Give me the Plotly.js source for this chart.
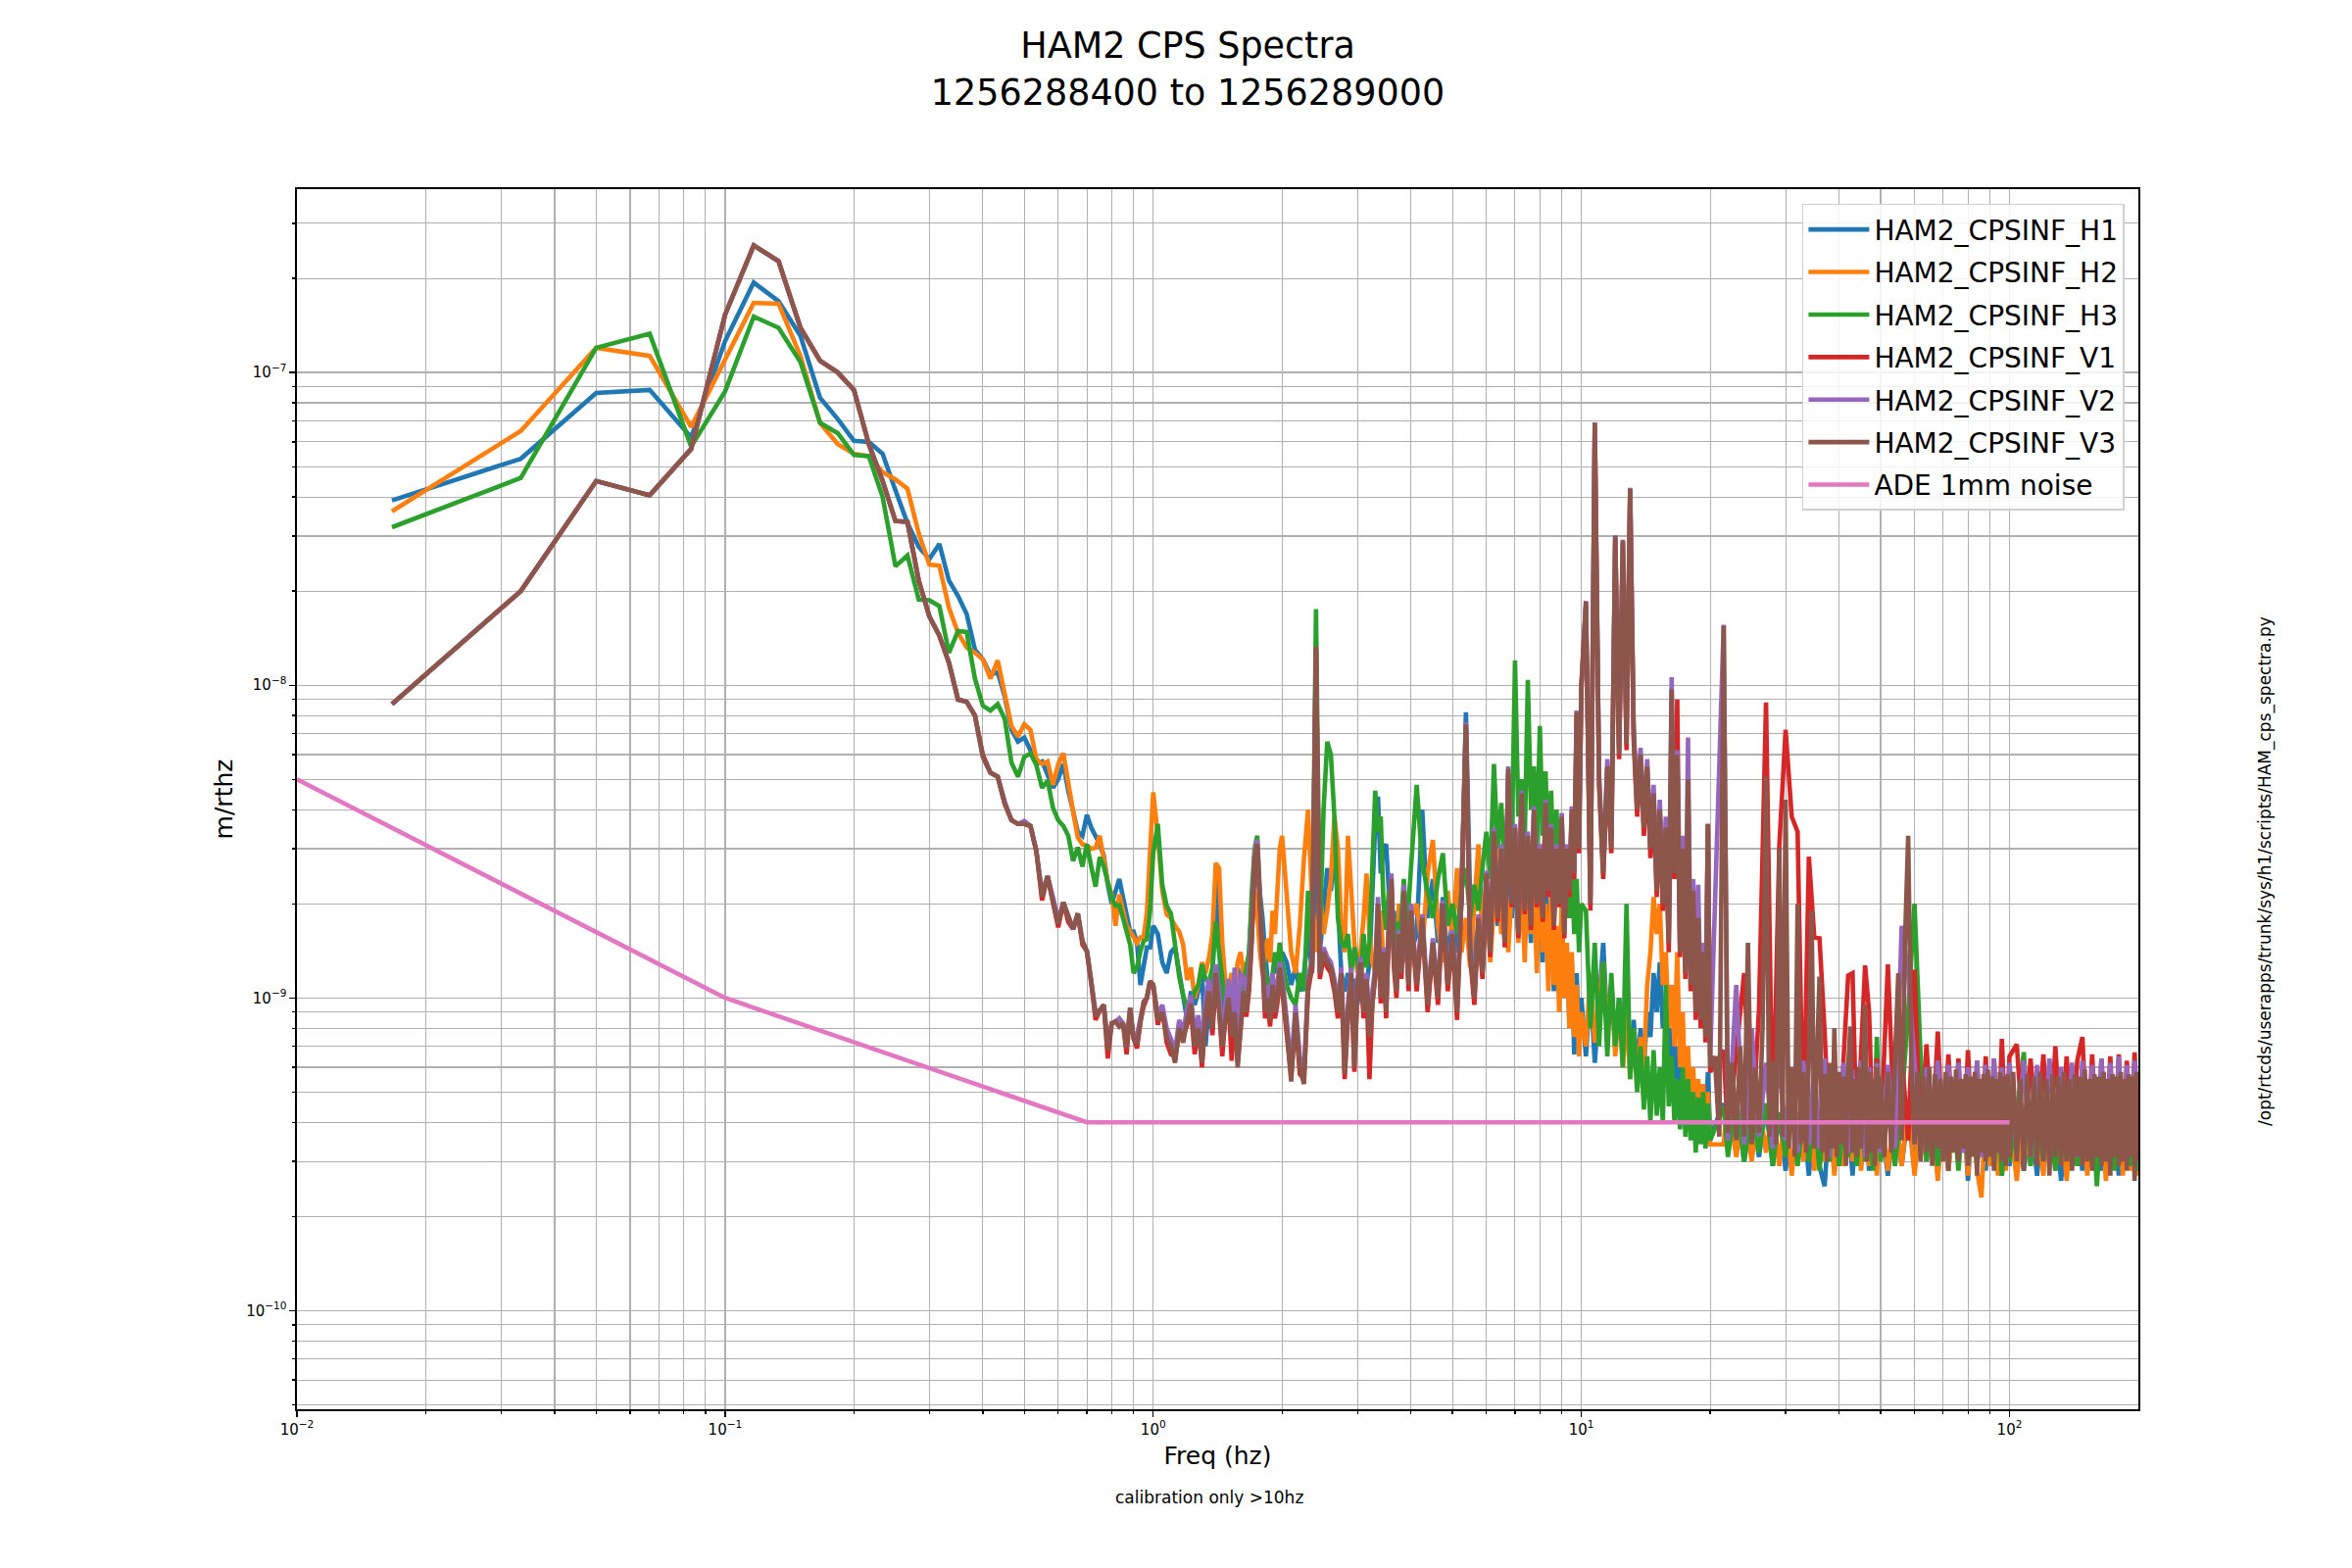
<!DOCTYPE html>
<html><head><meta charset="utf-8">
<script src="https://cdn.plot.ly/plotly-3.0.1.min.js"></script>
<style>html,body{margin:0;padding:0;background:#fff}#chart{width:2400px;height:1600px}</style>
</head><body><div id="chart"></div>
<script>
// values are stored in units of 1e-10 m/rtHz
const UNIT = 1e-10;

const freqLow = [0.01667,0.03333,0.05,0.06667,0.08333,0.1,0.11667,0.13333,0.15,0.16667,
0.18333,0.2,0.21667,0.23333,0.25,0.26667,0.28333,0.3,0.31667,0.33333,
0.35,0.36667,0.38333,0.4,0.41667,0.43333,0.45,0.46667,0.48333,0.5,
0.51667,0.53333,0.55,0.56667,0.58333,0.6,0.61667,0.63333,0.65,0.66667,
0.68333,0.7,0.71667,0.73333,0.75,0.76667,0.78333,0.8,0.81667,0.83333,
0.85,0.86667,0.88333,0.9,0.91667,0.93333,0.95,0.96667,0.98333,1.0];

const freqMid = [1.025,1.05,1.075,1.1,1.125,1.15,1.175,1.2,1.225,1.25,1.275,1.3,1.325,1.35,1.375,1.4,1.425,1.45,1.475,1.5,
1.525,1.55,1.575,1.6,1.625,1.65,1.675,1.7,1.725,1.75,1.775,1.8,1.825,1.85,1.875,1.9,1.925,1.95,1.975,2.0,
2.05,2.1,2.15,2.2,2.25,2.3,2.35,2.4,2.45,2.5,2.55,2.6,2.65,2.7,2.75,2.8,2.85,2.9,2.95,3.0,
3.05,3.1,3.15,3.2,3.25,3.3,3.35,3.4,3.45,3.5,3.55,3.6,3.65,3.7,3.75,3.8,3.85,3.9,3.95,4.0,
4.125,4.25,4.375,4.5,4.625,4.75,4.875,5.0,5.125,5.25,5.375,5.5,5.625,5.75,5.875,6.0,
6.125,6.25,6.375,6.5,6.625,6.75,6.875,7.0,7.125,7.25,7.375,7.5,7.625,7.75,7.875,8.0,
8.125,8.25,8.375,8.5,8.625,8.75,8.875,9.0,9.125,9.25,9.375,9.5,9.625,9.75,9.875,10.0,
10.25,10.5,10.75,11,11.25,11.5,11.75,12,12.25,12.5,12.75,13,13.25,13.5,13.75,14,14.25,14.5,14.75,15,
15.25,15.5,15.75,16,16.25,16.5,16.75,17,17.25,17.5,17.75,18,18.25,18.5,18.75,19,19.25,19.5,19.75,20];

const freqHighDense = [20.5,21,21.5,22,22.5,23,23.5,24,24.5,25,25.5,26,26.5,27,27.5,28,28.5,29,29.5,30,
30.5,31,31.5,32,32.5,33,33.5,34,34.5,35,35.5,36,36.5,37,37.5,38,38.5,39,39.5,40,
40.5,41,41.5,42,42.5,43,43.5,44,44.5,45,45.5,46,46.5,47,47.5,48,48.5,49,49.5,50,
51,52,53,54,55,56,57,58,59,60,61,62,63,64,65,66,67,68,69,70,
71,72,73,74,75,76,77,78,79,80,81,82,83,84,85,86,87,88,89,90,
91,92,93,94,95,96,97,98,99,100,
102,104,106,108,110,112,114,116,118,120,122,124,126,128,130,132,134,136,138,140,
142,144,146,148,150,152,154,156,158,160,162,164,166,168,170,172,174,176,178,180,
182,184,186,188,190,192,194,196,198,200];

const freqHigh = [21.5,22,23,24,25,26,27,28,29,30,31,32,33,34,35,36,37,38,39,40,
41,42,43,44,45,46,47,48,49,50,
52,54,56,58,60,62,64,66,68,70,72,74,76,78,80,82,84,86,88,90,92,94,96,98,100,
104,108,112,116,120,124,128,132,136,140,144,148,152,156,160,164,168,172,176,180,184,188,192,196,200];

// ---- HAM2_CPSINF_H1 ----
const h1Low = [390,530,860,880,620,1260,1940,1690,1310,830,
710,605,600,550,420,330,277,253,283,216,
193,169,130,121,108,110,92,72,66,68,
62,56,57,52,47,50,56,46,40,34,
33,38.5,35,33,31,28.5,23,20,22,24,
21,18.5,16.3,16.3,15,11,13,14.5,14.5,17];
const h1Mid = [16,13,12,14,14.5,12,10,8.5,10.5,9.5,10.5,12,7,9.5,11,25.5,17,7.5,9,11,
9.5,11.5,12.5,11.5,10.5,11,14,20,24,26,22,18,14,11.5,10.5,11.5,13,12,12.5,14,
13,11,12.5,10.5,12,16,12,30,14,19,26,22,30,20,12,10.5,12,10,11.5,9.5,
12,10,11,13,20,36,44,25,30,31,22,17,19,14,17,15,18.5,13,16,14,
16,40,18,24,15,21,13,18,14,20,82,20,13,17,12,22,
15,26,17,23,15,30,18,26,16,30,17,24,15,28,14,22,
13,25,12,18,10.5,16,11,19,10,14,8.5,13,6.6,12,7.5,10,
6.5,11,6.2,10,15,8,11,7,10,6.5,9,6,8.5,5.8,8,6,9,7.5,12,9,
13,8,10,6.5,8,5.5,7,5,6.5,4.5,6,4.4,5.5,4,5.2,3.9,5,3.7,5.8,3.6];
const h1High = [4.6,3.2,4.7,3.0,4.4,3.1,4.5,2.9,4.3,2.8,4.6,3.0,4.2,2.7,4.4,2.9,2.5,4.3,2.8,4.5,
3.0,4.2,2.7,4.4,2.9,4.3,2.8,4.5,3.0,4.2,
2.7,4.4,2.9,4.3,2.8,4.5,3.0,4.2,2.7,4.4,2.8,4.3,3.0,4.5,2.6,4.2,2.9,4.4,2.8,4.3,3.0,4.5,2.7,4.2,2.9,
4.4,2.8,4.3,2.7,4.5,3.0,4.2,2.6,4.4,2.9,4.3,2.8,4.5,3.0,4.2,2.8,4.4,2.9,4.3,2.7,4.5,3.0,4.2,2.8,4.4];

// ---- HAM2_CPSINF_H2 ----
const h2Low = [360,650,1200,1130,670,1100,1670,1660,1130,690,
590,550,540,480,455,425,306,243,241,177,
147,132,127,121,105,120,94,74,68.6,75,
72,58,56,57,48,56,60.6,48,39.4,32.6,
31,30.7,30,30.2,33,27.8,23.4,21.4,17,21.4,
19,17,16.3,15.6,15,15.6,15.6,18.8,30,45.4];
const h2Mid = [33,22,18.5,18,17,16.3,14.8,11.4,12.5,10,11,13,12,13.5,16,27,26,15,11,10.5,
12,10.5,13,14,12,13,12,16,22,19,14,12,14,15.5,13,19,16,22,30,33,
22,14,12,17,28,40,20,14,22,16,19,24,38,30,17,14,33,22,15,12,
14,18,25,16,13,12,14,19,13,12,15,18,14,12,20,16.5,13,17,14,18,
20,14,25,32,17,13,22,15,26,14,18,12.5,20,31,15,24,
13,20,30,16,26,14,22,35,15,24,13,28,16,22,12,30,
14,20,10.5,22,11,17,9,20,10,15,8,14,7.5,11,6.5,9,
7,12,7.2,10,13,8,11,6.5,9.5,6,9,5.5,8,5.2,7.5,6,11,14,21,16,
20,11,14,8,11,7,14,6,9,4.6,7,4.2,6,3.8,5.5,3.7,5.3,3.5,5,3.4];
const h2High = [3.4,4.8,3.1,4.5,3.0,4.6,3.2,4.4,2.9,4.5,2.7,4.3,3.0,4.6,2.8,4.4,3.0,4.2,2.7,4.5,
2.9,4.3,3.0,4.4,2.8,4.6,2.9,4.3,2.7,4.5,
2.8,4.4,2.9,4.6,2.7,4.3,3.0,4.5,2.6,4.4,2.8,4.2,2.9,4.5,2.7,4.3,2.8,2.3,4.4,2.9,4.2,2.7,4.5,2.8,4.3,
2.6,4.4,2.9,4.2,2.7,4.5,2.8,4.3,2.6,4.4,2.9,4.2,2.7,4.5,2.8,4.3,2.6,4.4,2.9,4.2,2.7,4.5,2.8,4.3,2.7];

// ---- HAM2_CPSINF_H3 ----
const h3Low = [320,460,1200,1330,580,870,1510,1390,1080,690,
640,545,540,400,240,260,188,187,179,127,
149,148,105,86,83,87,78,56.5,51,59,
60.5,55.5,47,49.5,40.5,37,35.5,33,27.4,30.3,
26.3,31,26.3,22.7,28.2,26.3,23.4,20.9,19.7,19.8,
18,16.5,14.8,12,12.5,14.1,15.2,15.4,19,29];
const h3Mid = [36,23,19.7,18.6,15,11.7,10.2,9.2,9.6,10.5,11,12.8,11.5,11.2,12.5,17.5,14,11.5,9.5,9,
10.3,11,9.5,8.8,11,12.5,14,22,30,33,22,14,12,11.5,10,12,14,12.5,15,13,
11,10,9.5,12,10.5,22,14,175,16,40,66,60,38,18,15,14.5,16,12,14.5,13,
10.5,16,12.5,15,26,46,34,38,20,16.5,22,19,15,17.5,14,18,24,17,20,26,
48,27,22,18,24,29,17,20,16,22,26,18,23,19,26,34,
24,56,30,42,25,44,30,120,38,50,32,104,40,55,30,74,
33,53,28,46,24,40,22,35,20,30,18,28,16,24,14,20,
19,8,15,7,13,6.5,12,7,10,6,20,5.5,8,5,7,4.4,6.5,4,6.8,4.2,
6,4,11,4.5,6.5,4,5.5,3.8,6,3.6,5.5,3.5,5,3.2,4.8,3.4,5,3.3,4.6,3.5];
const h3High = [4.5,3.1,4.8,3.0,4.4,3.2,4.6,2.9,4.3,3.1,4.5,2.9,4.2,3.0,4.4,2.8,4.3,3.0,4.5,2.9,
4.2,3.1,4.4,2.9,4.3,3.0,4.5,2.8,7.5,3.0,
4.4,2.9,4.6,9,20,6.5,3.0,4.4,2.9,4.3,3.1,4.5,2.8,4.4,3.0,4.3,2.9,4.5,3.1,4.2,2.9,4.4,2.7,4.5,3.0,
4.3,6.7,2.9,4.4,3.0,4.5,2.8,4.3,3.0,4.4,2.9,4.2,3.1,4.5,2.5,4.3,3.0,4.4,2.8,4.3,3.0,4.5,2.9,4.4,2.8];

// ---- HAM2_CPSINF_V1 ----
const v1Low = [87,200,450,405,570,1530,2550,2270,1390,1090,
1000,880,590,450,335,333,216,166,144,118,
90,88.5,80,60,52.5,51,41.7,37,36,36,
35.5,29.5,20.5,24.5,20.2,16.8,20.2,17.5,16.6,18.6,
14.8,14.1,11.3,8.5,9.1,9.5,6.4,8.3,8.4,8.1,
8.3,6.6,9.0,7.4,6.9,8.4,9.4,10,11.3,11];
const v1Mid = [8.2,9.3,7.2,6.6,6.5,7.6,7.5,8.2,9.2,6.6,8.3,6.0,8.7,10.2,7.6,11.5,9.2,6.5,8.8,9.6,
6.3,9.3,6.2,8.2,10.1,8.7,10.6,15.5,27,30,19.5,11.5,8.6,9.6,8.1,10.5,8.6,9.6,12,10.6,
7.6,5.6,8.6,5.7,5.5,10.5,12.5,130,11.5,13.5,12.5,12,10.5,8.6,11.5,5.5,8.6,11.5,5.8,10.5,
12.5,8.6,11,5.5,9.6,11.5,19.5,9.6,13.5,8.6,16.5,23,12.5,10,15.5,11.5,21,13.5,10.5,18.5,
10.5,17.5,9,14.5,9.5,19.5,10.5,15.5,8.5,21,73,13.5,9.5,17.5,11.5,24,
13.5,33,17.5,29,14.5,52,19.5,34,15.5,44,18.5,32,16.5,39,19.5,29,
17.5,41,21,34,16.5,29,19.5,37,15.5,29,21,39,24,80,29,97,
180,19,680,48,24,53,29,295,58,285,62,420,67,38,58,33,53,28,43,21,
38,19,33,14,60,24,90,13.5,29,11.5,45,10.5,21,8.5,17,8,13.5,7.2,36,5.8];
const v1High = [6.8,3.6,6.5,12,3.5,9.2,88,3.6,30.7,72,38,34,3.5,28.3,15.6,15.5,7.8,3.4,6.8,3.5,
6.5,11.8,12,3.3,6.6,12.7,9,3.4,6.4,3.5,
12.8,3.4,6.6,3.5,12.3,3.4,7.1,3.4,7.8,3.3,6.6,3.5,6.4,3.2,6.8,3.4,6.3,3.3,6.5,3.5,6.4,3.2,7.4,3.4,6.5,
7.1,3.3,6.4,3.5,6.6,3.2,7.0,3.4,6.5,3.3,6.3,7.5,3.4,6.6,3.3,6.4,3.5,6.5,3.2,6.6,3.4,6.3,3.3,6.7,3.4];

// ---- HAM2_CPSINF_V2 ----
const v2Low = [87,200,450,405,570,1530,2550,2270,1390,1090,
1000,880,590,450,335,333,216,166,144,118,
90,88.5,80,59,52.5,51,42.5,37,36,36.8,
35.5,29.5,21.8,24.5,21,17.8,20.2,18.3,16.6,18.6,
15.2,14.1,11.3,9.1,9.1,9.5,7.3,8.3,8.4,8.6,
8.3,7.3,9.3,7.4,7.6,8.8,9.7,10,11.3,11];
const v2Mid = [8.8,9.5,8,7.4,6.8,8.5,7.8,9.2,10.2,7.6,8.8,7,10,11.5,9,12.8,10.5,7.8,9.5,11.5,
8.5,12.5,7.5,12,11.5,10.5,12.5,17,29,32,21,13,10,11,9.5,12,10,11,13,12,
8.5,6,9.5,6.5,5.8,11.5,13.5,131,12.5,14.5,13.5,13,11.5,9.5,12.5,6.2,9.5,12.5,6.5,11.5,
13.5,9.5,12,8,10.5,12.5,21,10.5,14.5,9.5,17.5,25,13.5,11,16.5,12.5,23,14.5,11.5,20,
11.5,18.5,10,15.5,10.5,20.5,11.5,16.5,9.5,22.5,76,14.5,10.5,18.5,12.5,25.5,
14.5,35,18.5,31,15.5,55,21,36,16.5,46,20,34,18,41,21,31,
19,43,23,36,18,31,21,39,17,31,23,41,26,83,31,100,
186,21,692,52,26,58,32,302,63,292,68,428,74,42,63,37,58,32,48,24,
43,22,38,16,106,27,62,15,33,13,68,12,24,10,23,9,15,8,35,6.5];
const v2High = [156,3.5,11,3.4,8,3.6,6.2,3.3,6.5,3.5,6,3.2,6.3,3.4,6.1,3.3,6.4,3.1,6,3.4,
6.2,3.2,5.9,3.3,6.3,3.1,6.0,3.4,6.2,3.2,
6.1,3.3,17,12,6.2,3.2,6.0,3.4,6.3,3.1,6.1,3.3,6.2,3.2,6.0,3.4,6.3,3.1,6.1,3.3,6.4,3.2,6.0,3.3,6.2,
3.2,6.3,3.1,6.1,3.3,6.4,3.2,6.0,3.4,6.2,3.1,6.3,3.3,6.1,3.2,6.4,3.1,6.2,3.3,6.5,3.2,6.1,3.3,6.3,3.2];

// ---- HAM2_CPSINF_V3 ----
const v3Low = [87,200,450,405,570,1530,2550,2270,1390,1090,
1000,880,590,450,335,333,216,166,144,118,
90,88.5,80,59,52.5,51,41.7,37,36,36,
35.5,29.5,21.1,24.5,20.2,17.2,20.2,18.3,16.6,18.6,
15.2,14.1,11.3,8.75,9.1,9.5,6.8,8.3,8.4,8.1,
8.3,6.9,9.3,7.4,7.1,8.4,9.7,10,11.3,11];
const v3Mid = [8.5,9,7.5,7,6.2,8,7.2,8.5,9.6,7,8,6.2,9,10.5,8,12,9.5,7,8.5,10,
7.5,9,6,8.5,10.5,9,11,16,28,31,20,12,9,10,8.5,11,9,10,12.5,11,
8,5.4,9,6,5.3,11,13,133,12,14,13,12.5,11,9,12,5.7,9,12,6,11,
13,9,11.5,7.5,10,12,20,10,14,9,17,24,13,10.5,16,12,22,14,11,19,
11,18,9.5,15,10,20,11,16,9,22,75,14,10,18,12,25,
14,34,18,30,15,54,20,35,16,45,19,33,17,40,20,30,
18,42,22,35,17,30,20,38,16,30,22,40,25,82,30,99,
185,20,690,50,25,55,30,300,60,290,65,425,70,40,60,35,55,30,45,22,
40,20,35,15,97,25,60,14,30,12,50,11,22,9,18,8.5,14,7.5,36,6];
const v3High = [6.5,3.6,155,3.7,6.2,3.5,7,3.6,15,3.4,6,3.7,8,51,3.6,6.3,3.4,30,3.6,43,
3.3,6,3.1,20,3.4,5.8,3.2,6.5,19,3.3,6,11.7,3.2,5.7,3.0,6.2,3.3,8,3.1,5.8,
3.4,5.6,2.9,6,8.1,3.2,5.5,3.1,6,3.3,5.7,9.5,3.0,5.8,3.2,5.5,2.9,6,3.3,5.6,
3.1,5.8,3.2,6.5,12,3.5,15,33,6,3.4,5.8,3.0,5.6,3.2,6,2.9,5.7,3.3,5.5,3.0,
5.8,2.8,5.6,3.2,5.9,3.0,5.5,3.3,5.7,2.9,5.6,3.1,5.8,2.7,5.5,3.2,5.7,3.0,5.9,3.1,
5.6,2.8,5.5,3.2,5.8,3.0,5.6,2.9,5.7,3.1,
5.8,3.0,5.5,2.8,5.7,3.1,5.6,2.9,5.8,3.0,5.5,2.7,5.7,3.1,5.6,2.9,5.8,3.0,5.5,2.8,
5.7,3.1,5.6,2.9,5.9,3.0,5.5,2.8,5.7,3.1,5.6,2.9,5.8,3.0,5.5,2.7,5.7,3.1,5.6,2.9,
5.8,3.0,5.5,2.8,5.7,3.1,5.6,2.6,5.8,3.0];

// ---- ADE 1mm noise ----
const adeFreq = [0.01,0.1,0.7,100];
const adeVal = [50,10,4,4];

const names = ['HAM2_CPSINF_H1','HAM2_CPSINF_H2','HAM2_CPSINF_H3','HAM2_CPSINF_V1','HAM2_CPSINF_V2','HAM2_CPSINF_V3','ADE 1mm noise'];
const colors = ['#1f77b4','#ff7f0e','#2ca02c','#d62728','#9467bd','#8c564b','#e377c2'];

const scale = a => a.map(v => v * UNIT);
const xStd = freqLow.concat(freqMid, freqHigh);
const xDense = freqLow.concat(freqMid, freqHighDense);
const series = [
  [xStd, h1Low.concat(h1Mid, h1High)],
  [xStd, h2Low.concat(h2Mid, h2High)],
  [xStd, h3Low.concat(h3Mid, h3High)],
  [xStd, v1Low.concat(v1Mid, v1High)],
  [xStd, v2Low.concat(v2Mid, v2High)],
  [xDense, v3Low.concat(v3Mid, v3High)],
  [adeFreq, adeVal]
];
const traces = series.map((s, i) => ({
  type: 'scatter', mode: 'lines', x: s[0], y: scale(s[1]), name: names[i],
  legendgroup: 'g' + i,
  line: {color: colors[i], width: 4.6}, hoverinfo: 'skip'
}));

function minorVals(lo, hi) {
  const out = [];
  for (let e = lo; e <= hi; e++) for (let m = 2; m <= 9; m++) out.push(m * Math.pow(10, e));
  return out;
}
const sup = e => '10<sup>\u2212' + e + '</sup>';
const gridC = '#b0b0b0';
const axisCommon = {
  type: 'log', showgrid: true, gridcolor: gridC, gridwidth: 1.3, zeroline: false,
  showline: true, mirror: true, linecolor: '#000', linewidth: 1.6,
  ticks: 'outside', ticklen: 6, tickwidth: 1.3, tickcolor: '#000',
  tickfont: {size: 15, color: '#000'}
};
const layout = {
  width: 2400, height: 1600,
  paper_bgcolor: '#fff', plot_bgcolor: '#fff',
  font: {family: 'DejaVu Sans', color: '#000'},
  margin: {l: 303, r: 218, t: 193, b: 162, pad: 0},
  title: {text: 'HAM2 CPS Spectra<br>1256288400 to 1256289000', x: 0.505, xanchor: 'center',
          yref: 'container', y: 0.963, yanchor: 'top', font: {size: 36.5, color: '#000'}},
  showlegend: true,
  legend: {x: 0.9925, xanchor: 'right', y: 0.988, yanchor: 'top', itemwidth: 62,
           font: {size: 28, color: '#000'}, bgcolor: 'rgba(255,255,255,0.85)',
           bordercolor: '#d0d0d0', borderwidth: 1.5, tracegroupgap: 4},
  xaxis: Object.assign({}, axisCommon, {
    range: [-2, Math.log10(200)],
    tickvals: [0.01, 0.1, 1, 10, 100], ticktext: [sup(2), sup(1), '10<sup>0</sup>', '10<sup>1</sup>', '10<sup>2</sup>'],
    minor: {tickvals: minorVals(-2, 1), showgrid: true, gridcolor: gridC, gridwidth: 1.1, ticks: 'outside', ticklen: 3.5, tickcolor: '#000'},
    title: {text: 'Freq (hz)', font: {size: 25}, standoff: 10}
  }),
  yaxis: Object.assign({}, axisCommon, {
    range: [-10.3156, -6.4135],
    tickvals: [1e-10, 1e-9, 1e-8, 1e-7], ticktext: [sup(10), sup(9), sup(8), sup(7)],
    minor: {tickvals: minorVals(-11, -7), showgrid: true, gridcolor: gridC, gridwidth: 1.1, ticks: 'outside', ticklen: 3.5, tickcolor: '#000'},
    title: {text: 'm/rthz', font: {size: 25}, standoff: 6}
  }),
  annotations: [
    {text: 'calibration only >10hz', xref: 'paper', yref: 'paper', x: 0.4955, y: -0.0723,
     xanchor: 'center', yanchor: 'middle', showarrow: false, font: {size: 17, color: '#000'}},
    {text: '/opt/rtcds/userapps/trunk/sys/h1/scripts/HAM_cps_spectra.py', xref: 'paper', yref: 'paper',
     x: 1.0692, y: 0.441, xanchor: 'center', yanchor: 'middle', textangle: -90, showarrow: false,
     font: {size: 17, color: '#000'}}
  ]
};
Plotly.newPlot('chart', traces, layout, {displayModeBar: false, staticPlot: true});
</script></body></html>
